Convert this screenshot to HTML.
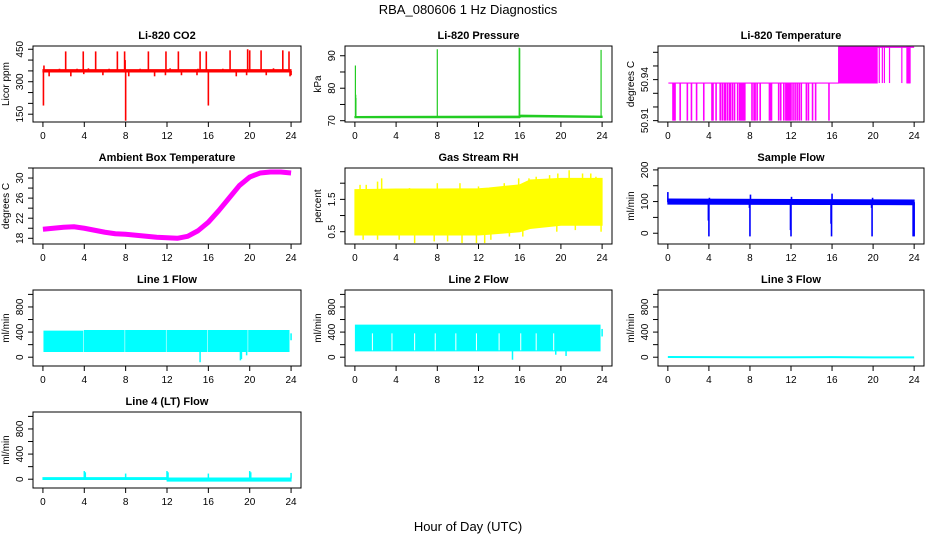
<!DOCTYPE html>
<html><head><meta charset="utf-8"><style>
html,body{margin:0;padding:0;background:#fff}
svg{display:block;font-family:"Liberation Sans",sans-serif}
</style></head><body>
<svg id="chart" width="936" height="540" viewBox="0 0 936 540" xmlns="http://www.w3.org/2000/svg">
<text x="468" y="14" text-anchor="middle" font-size="13">RBA_080606  1 Hz Diagnostics</text>
<text x="468" y="531" text-anchor="middle" font-size="13">Hour of Day (UTC)</text>
</svg>
<script>
// ---- data arrays ----
const xTicks=[0,4,8,12,16,20,24];
// CO2
const co2BandHours=[0,24], co2Lo=[345,345], co2Hi=[356,356], co2Base=350;
const co2SpikeHours=[0.05,0.1,2.2,3.9,5.1,7.2,7.9,7.95,8.0,10.2,11.9,13.1,15.2,15.8,16.0,18.1,19.8,20.0,21.1,23.2,23.8,0.6,2.7,3.95,5.8,8.3,10.8,11.85,13.4,14.9,18.7,19.7,21.6,23.9,1.6,3.3,4.4,6.4,9.4,12.3,15.0,17.4,22.3,24.0];
const co2SpikeVals=[190,375,440,440,440,440,440,400,120,440,440,440,440,440,190,445,450,445,445,445,440,325,325,335,330,325,325,330,330,330,325,330,330,325,360,360,362,360,360,362,360,360,362,330];
// Pressure
const presHours=[0,16,16.1,24], presLo=[70.9,70.9,71.2,71.0], presHi=[71.3,71.4,71.7,71.4], presBase=71.1;
const presSpikeHours=[0.05,0.08,0.1,8.0,15.95,16.0,23.9];
const presSpikeVals=[87,78,77,92,92.5,92.3,91.8];
// Li-820 temperature
const tMid=50.9375, tHigh=50.9637, tLow=50.9100;
const tStepHours=[0.05,16.65,24];
const tFillStart=[16.65,23.3], tFillEnd=[20.4,23.6];
const tDropHours=[0.5,0.6,0.7,1.2,1.9,2.3,2.8,3.5,4.3,4.4,4.7,5.1,5.3,5.5,5.6,5.8,6.0,6.1,6.3,6.5,6.8,7.0,7.1,7.2,7.3,7.4,7.5,8.2,8.4,8.5,8.7,9.0,9.9,10.0,10.1,10.8,11.0,11.3,11.5,11.6,11.7,11.8,11.9,12.0,12.2,12.4,12.6,12.8,13.0,13.5,13.7,14.1,14.4,15.7];
const tHighDropHours=[20.6,20.9,21.1,21.6,22.8,23.3,23.4,23.5,23.6];
// Ambient box temperature
const ambHours=[0,1,2,3,4,5,6,7,8,9,10,11,12,13,14,15,16,17,18,19,20,21,22,23,24];
const ambVals=[19.8,20,20.2,20.3,20,19.6,19.2,18.9,18.8,18.6,18.4,18.2,18.1,18.0,18.4,19.5,21.2,23.5,26,28.5,30.2,31,31.2,31.2,31];
// Gas stream RH
const rhHours=[0,4,8,12,13,16,17,20,24];
const rhLo=[0.4,0.4,0.4,0.4,0.42,0.5,0.6,0.7,0.7];
const rhHi=[1.8,1.82,1.82,1.83,1.85,1.95,2.1,2.15,2.15];
const rhUpHours=[0.5,1.1,2.2,2.6,5.3,8.0,10.2,12.0,14.5,15.9,16.9,17.6,18.9,19.7,20.8,22.1,22.9,23.4];
const rhUpVals=[1.95,1.95,2.05,2.15,1.85,2.0,2.0,1.9,2.0,2.15,2.15,2.2,2.25,2.3,2.4,2.3,2.3,2.2];
const rhDownHours=[0.8,2.2,4.3,5.8,7.7,9.0,10.4,11.8,12.6,13.2,15.0,16.3,19.6,21.4,23.9];
const rhDownVals=[0.25,0.25,0.25,0.15,0.2,0.2,0.15,0.15,0.15,0.25,0.35,0.35,0.5,0.55,0.5];
// Sample flow
const sfHours=[0,24], sfLo=[92,90], sfHi=[108,105], sfBase=98;
const sfSpikeHours=[3.95,4.0,7.95,8.0,11.95,12.0,15.9,15.95,19.85,19.9,23.9,24.0,0.0,8.05,16.0,4.05,12.05,19.95];
const sfSpikeVals=[40,-10,80,-10,10,-10,30,-10,80,-10,-10,-10,130,122,125,112,115,112];
// Line 1
const l1SegStart=[0.1,4.0,8.0,12.0,16.0,19.9], l1SegEnd=[3.85,7.85,11.85,15.85,19.75,23.8];
const l1Lo=[90,90,90,90,90,90], l1Hi=[415,425,425,425,425,425];
const l1SpikeHours=[15.2,19.1,19.2,19.7,24.0], l1SpikeVals=[-80,-50,-30,30,380], l1SpikeFrom=[100,100,100,100,270];
// Line 2
const l2SegStart=[0.05], l2SegEnd=[23.8], l2Lo=[100], l2Hi=[510];
const l2GapHours=[1.7,3.6,5.8,7.8,9.8,11.8,14.0,16.1,17.6,19.3];
const l2SpikeHours=[15.3,19.5,20.5,24.0], l2SpikeVals=[-40,40,20,450], l2SpikeFrom=[100,100,100,330];
// Line 3
const l3Hours=[0,4,8,12,16,20,24], l3Vals=[3,2,0,0,2,-3,-3];
// Line 4
const l4Hours=[0,12,12.01,24], l4Lo=[-5,-5,-30,-30], l4Hi=[25,25,20,20];
const l4SpikeHours=[4.0,4.1,8.0,12.0,12.1,16.0,20.0,20.1,24.0], l4SpikeVals=[130,110,90,130,110,90,130,110,100];

// ---- layout ----
const NS="http://www.w3.org/2000/svg";
const svg=document.getElementById('chart');
const cols=[[33,301],[345,612],[658,924]];
const rows=[[46,122],[168,244],[290,366],[412,488]];
function el(tag,attrs,parent){const e=document.createElementNS(NS,tag);for(const k in attrs)e.setAttribute(k,attrs[k]);(parent||svg).appendChild(e);return e;}

function panel(name,col,row,title,ylab,ydom,yticks,ylabels){
  const g=el('g',{});
  
  
  const [x0,x1]=cols[col],[y0,y1]=rows[row];
  const sx=h=>x0+(h+0.96)/25.92*(x1-x0);
  const sy=v=>y1-(v-ydom[0])/(ydom[1]-ydom[0])*(y1-y0);
  const clipId='clip-'+name;
  const cp=el('clipPath',{id:clipId},g);el('rect',{x:x0,y:y0,width:x1-x0,height:y1-y0},cp);
  const plot=el('g',{'clip-path':'url(#'+clipId+')'},g);
  
  
  const t=el('text',{x:(x0+x1)/2,y:y0-7,'text-anchor':'middle','font-size':11,'font-weight':'bold'},g);
  t.textContent=title;
  
  
  const xa=el('g',{},g);
  
  
  xTicks.forEach(h=>{const x=sx(h);el('line',{x1:x,x2:x,y1:y1,y2:y1+5,stroke:'#000','stroke-width':1},xa);
    const tl=el('text',{x:x,y:y1+17,'text-anchor':'middle','font-size':10},xa);tl.textContent=h;});
  const ya=el('g',{},g);
  
  
  yticks.forEach((v,i)=>{const y=sy(v);el('line',{x1:x0-5,x2:x0,y1:y,y2:y,stroke:'#000','stroke-width':1},ya);
    if(ylabels[i]!==''){const tl=el('text',{x:x0-10,y:y,'text-anchor':'middle','font-size':10,transform:`rotate(-90 ${x0-10} ${y})`},ya);tl.textContent=ylabels[i];}});
  const yl=el('text',{x:x0-24,y:(y0+y1)/2,'text-anchor':'middle','font-size':10,transform:`rotate(-90 ${x0-24} ${(y0+y1)/2})`},g);
  yl.textContent=ylab;
  
  
  const box=el('rect',{x:x0,y:y0,width:x1-x0,height:y1-y0,fill:'none',stroke:'#000','stroke-width':1},g);
  
  
  return {sx,sy,plot,name};
}
function band(p,hours,lo,hi,color,label){
  let pts=hours.map((h,i)=>p.sx(h)+','+p.sy(hi[i]));
  for(let i=hours.length-1;i>=0;i--)pts.push(p.sx(hours[i])+','+p.sy(lo[i]));
  const e=el('polygon',{points:pts.join(' '),fill:color,stroke:color,'stroke-width':1},p.plot);
  
  
}
function spikes(p,hours,vals,from,color,w,label){
  const g=el('g',{},p.plot);
  
  
  hours.forEach((h,i)=>{const f=Array.isArray(from)?from[i]:from;
    el('line',{x1:p.sx(h),x2:p.sx(h),y1:p.sy(f),y2:p.sy(vals[i]),stroke:color,'stroke-width':w},g);});
}
function line(p,hours,vals,color,w,label){
  const e=el('polyline',{points:hours.map((h,i)=>p.sx(h)+','+p.sy(vals[i])).join(' '),fill:'none',stroke:color,'stroke-width':w,'stroke-linejoin':'round'},p.plot);
  
  
}
function segs(p,st,en,lo,hi,color,label){
  st.forEach((s,i)=>band(p,[s,en[i]],[lo[i],lo[i]],[hi[i],hi[i]],color,label+'-'+i));
}
const flowTicks=[0,200,400,600,800,1000], flowLabels=['0','','400','','800',''];
const flowDom=[-140,1070];

// CO2
let p=panel('co2',0,0,'Li-820 CO2','Licor ppm',[114,465],[150,200,250,300,350,400,450],['150','','','300','','','450']);
band(p,co2BandHours,co2Lo,co2Hi,'#ff0000','baseline');
spikes(p,co2SpikeHours,co2SpikeVals,co2Base,'#ff0000',1.6,'spikes');
// Pressure
p=panel('pressure',1,0,'Li-820 Pressure','kPa',[69.6,93],[70,75,80,85,90],['70','','80','','90']);
band(p,presHours,presLo,presHi,'#22cc22','baseline');
spikes(p,presSpikeHours,presSpikeVals,presBase,'#22cc22',1.2,'spikes');
// Li-820 temperature
p=panel('li820-temp',2,0,'Li-820 Temperature','degrees C',[50.909,50.9646],[50.91,50.92,50.93,50.94,50.95,50.96],['50.91','','','50.94','','']);
line(p,[tStepHours[0],tStepHours[1],tStepHours[1],tStepHours[2]],[tMid,tMid,tHigh,tHigh],'#ff00ff',1.2,'step-line');
tFillStart.forEach((s,i)=>band(p,[s,tFillEnd[i]],[tMid,tMid],[tHigh,tHigh],'#ff00ff','fill-'+i));
spikes(p,tDropHours,tDropHours.map(()=>tLow),tMid,'#ff00ff',1.6,'drops');
spikes(p,tHighDropHours,tHighDropHours.map(()=>tMid),tHigh,'#ff00ff',1.2,'high-drops');
// Ambient
p=panel('ambient-temp',0,1,'Ambient Box Temperature','degrees C',[16.86,32],[18,20,22,24,26,28,30,32],['18','','22','','26','','30','']);
line(p,ambHours,ambVals,'#ff00ff',5,'series');
// RH
p=panel('gas-rh',1,1,'Gas Stream RH','percent',[0.12,2.47],[0.5,1,1.5,2],['0.5','','1.5','']);
band(p,rhHours,rhLo,rhHi,'#ffff00','band');
spikes(p,rhUpHours,rhUpVals,1.5,'#ffff00',1.5,'up-spikes');
spikes(p,rhDownHours,rhDownVals,0.8,'#ffff00',1.5,'down-spikes');
// Sample flow
p=panel('sample-flow',2,1,'Sample Flow','ml/min',[-34,206],[0,50,100,150,200],['0','','100','','200']);
band(p,sfHours,sfLo,sfHi,'#0000ff','band');
spikes(p,sfSpikeHours,sfSpikeVals,sfBase,'#0000ff',1.6,'spikes');
// Line 1
p=panel('line1-flow',0,2,'Line 1 Flow','ml/min',flowDom,flowTicks,flowLabels);
segs(p,l1SegStart,l1SegEnd,l1Lo,l1Hi,'#00ffff','segment');
spikes(p,l1SpikeHours,l1SpikeVals,l1SpikeFrom,'#00ffff',1.5,'spikes');
// Line 2
p=panel('line2-flow',1,2,'Line 2 Flow','ml/min',flowDom,flowTicks,flowLabels);
segs(p,l2SegStart,l2SegEnd,l2Lo,l2Hi,'#00ffff','segment');
spikes(p,l2GapHours,l2GapHours.map(()=>380),110,'#ffffff',1,'gaps');
spikes(p,l2SpikeHours,l2SpikeVals,l2SpikeFrom,'#00ffff',1.5,'spikes');
// Line 3
p=panel('line3-flow',2,2,'Line 3 Flow','ml/min',flowDom,flowTicks,flowLabels);
line(p,l3Hours,l3Vals,'#00ffff',2,'series');
// Line 4
p=panel('line4-flow',0,3,'Line 4 (LT) Flow','ml/min',flowDom,flowTicks,flowLabels);
band(p,l4Hours,l4Lo,l4Hi,'#00ffff','band');
spikes(p,l4SpikeHours,l4SpikeVals,10,'#00ffff',1.5,'spikes');
</script>
</body></html>
